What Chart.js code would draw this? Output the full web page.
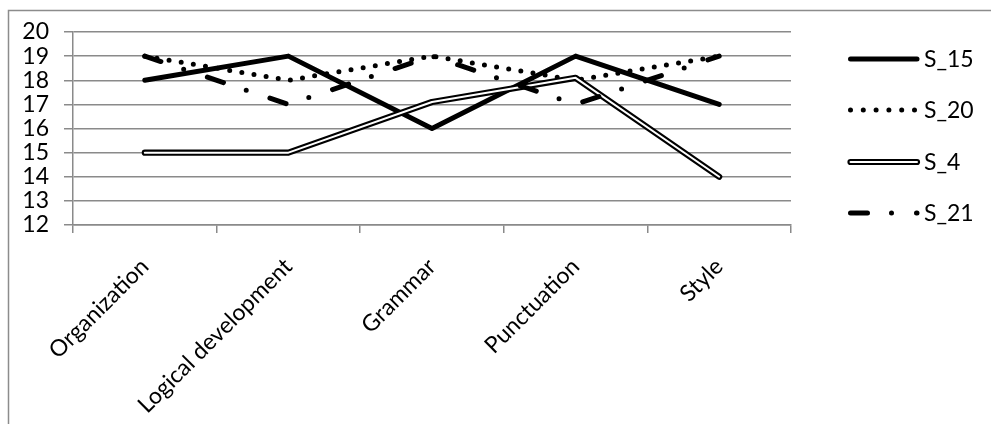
<!DOCTYPE html>
<html><head><meta charset="utf-8">
<script src="https://cdn.jsdelivr.net/npm/chart.js@4"></script>
<style>html,body{margin:0;padding:0;background:#fff;overflow:hidden}canvas{display:block}</style>
</head><body>
<canvas id="c" width="991" height="424"></canvas>
<script>
const categories = ['Organization', 'Logical development', 'Grammar', 'Punctuation', 'Style'];
const seriesNames = ['S_15', 'S_20', 'S_4', 'S_21'];
const s15 = [18, 19, 16, 19, 17];
const s20 = [19, 18, 19, 18, 19];
const s4  = [15, 15, 17.1, 18.1, 14];
const s21 = [19, 17, 19, 17, 19];
const yMin = 12, yMax = 20, yStep = 1;

const FONT = 'Lato, "Open Sans", sans-serif';
const GRID = '#8a8a8a';

const base = {pointRadius: 0, pointHoverRadius: 0, tension: 0, fill: false,
  borderCapStyle: 'round', borderJoinStyle: 'round', borderColor: '#000'};

const datasets = [
  Object.assign({}, base, {label: seriesNames[0], data: s15, borderWidth: 5, order: 4}),
  Object.assign({}, base, {label: seriesNames[1], data: s20, borderWidth: 5, borderDash: [0, 12.3], order: 3}),
  Object.assign({}, base, {label: seriesNames[2], data: s4, borderWidth: 6.2, order: 2}),
  Object.assign({}, base, {label: seriesNames[2] + ' inner', data: s4, borderWidth: 2, borderColor: '#fff', order: 1, inner: true}),
  Object.assign({}, base, {label: seriesNames[3], data: s21, borderWidth: 5, borderDash: [17, 24, 0, 25], order: 0}),
];

const frame = {
  id: 'frame',
  beforeDraw(chart) {
    const ctx = chart.ctx;
    ctx.save();
    ctx.strokeStyle = '#8c8c8c';
    ctx.lineWidth = 1.5;
    ctx.strokeRect(8.5, 10.5, 1200, 1000);
    ctx.restore();
  }
};

const legendRows = [59, 110, 162, 213];
const customLegend = {
  id: 'customLegend',
  afterDraw(chart) {
    const ctx = chart.ctx;
    const x0 = 850.5, x1 = 917;
    ctx.save();
    ctx.font = '23px ' + FONT;
    ctx.textBaseline = 'middle';
    ctx.textAlign = 'left';
    ctx.fillStyle = '#000';
    const main = chart.data.datasets.filter(d => !d.inner);
    main.forEach((ds, i) => {
      const y = legendRows[i];
      const draw = (color, w, dash) => {
        ctx.beginPath();
        ctx.setLineDash(dash || []);
        ctx.lineCap = 'round';
        ctx.strokeStyle = color;
        ctx.lineWidth = w;
        ctx.moveTo(x0, y);
        ctx.lineTo(x1, y);
        ctx.stroke();
      };
      draw(ds.borderColor, ds.borderWidth, ds.label === 'S_20' ? [0, 12.8] : ds.borderDash);
      const inner = chart.data.datasets.find(d => d.inner && d.data === ds.data);
      if (inner) draw(inner.borderColor, inner.borderWidth, []);
      ctx.setLineDash([]);
      ctx.fillText(ds.label, 924, y + 1);
    });
    ctx.restore();
  }
};

new Chart(document.getElementById('c'), {
  type: 'line',
  data: {labels: categories, datasets},
  options: {
    responsive: false,
    animation: false,
    events: [],
    layout: {padding: {top: 32, right: 200, left: 0, bottom: 0}},
    plugins: {legend: {display: false}, tooltip: {enabled: false}, title: {display: false}},
    scales: {
      x: {
        offset: true,
        grid: {offset: true, drawOnChartArea: false, drawTicks: true, tickLength: 8, color: GRID, lineWidth: 1.5},
        border: {display: true, color: GRID, width: 1.5},
        ticks: {autoSkip: false, minRotation: 45, maxRotation: 45, padding: 20, color: '#000',
          font: {family: FONT, size: 23}},
        afterFit(s) { s.height = 424 - 225; }
      },
      y: {
        min: yMin, max: yMax,
        grid: {color: GRID, lineWidth: 1.5, drawTicks: true, tickLength: 9},
        border: {display: true, color: GRID, width: 1.5},
        ticks: {stepSize: yStep, autoSkip: false, padding: 15, color: '#000', font: {family: FONT, size: 23}},
        afterFit(s) { s.width = 73; }
      }
    }
  },
  plugins: [frame, customLegend]
});
</script>
</body></html>
